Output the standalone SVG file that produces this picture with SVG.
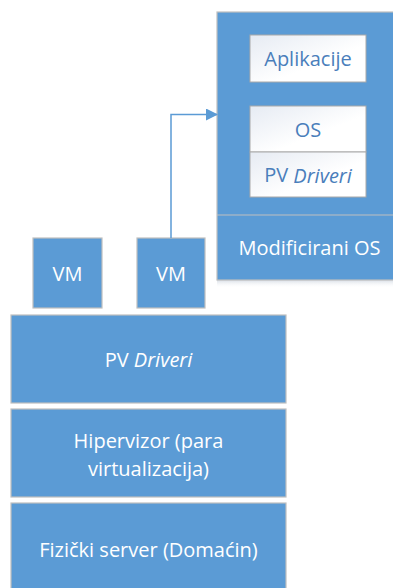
<svg xmlns="http://www.w3.org/2000/svg" width="393" height="588" viewBox="0 0 393 588">
<style>
.b{fill:#5B9BD5;stroke:#BFBFBF;stroke-width:1.2}
.w{fill:url(#wg);stroke:#A9A9A9;stroke-width:1}
text{font-family:"Open Sans","Liberation Sans",sans-serif;font-size:20px;text-anchor:middle;dominant-baseline:central}
.tw{fill:#FFFFFF}
.tb{fill:#4A7EBB}
.c{fill:none;stroke:#5B9BD5;stroke-width:1.5}
</style>
<defs>
<linearGradient id="wg" x1="0" y1="0" x2="1" y2="1">
<stop offset="0" stop-color="#E6EBF3"/>
<stop offset="0.6" stop-color="#FFFFFF"/>
<stop offset="1" stop-color="#FFFFFF"/>
</linearGradient>
<linearGradient id="sh" x1="0" y1="0" x2="0" y2="1">
<stop offset="0" stop-color="#D8DEE6"/>
<stop offset="1" stop-color="#FFFFFF" stop-opacity="0"/>
</linearGradient>
<marker id="ah" markerWidth="12" markerHeight="12" refX="11" refY="6" orient="auto" markerUnits="userSpaceOnUse">
<path d="M0,0 L12,6 L0,12 Z" fill="#5B9BD5"/>
</marker>
</defs>
<g id="guest">
<rect x="217" y="280" width="180" height="8" fill="url(#sh)"/>
<rect class="b" x="217" y="12" width="180" height="268"/>
<line x1="217" y1="215" x2="397" y2="215" stroke="#BFBFBF" stroke-width="1.2"/>
<text class="tw" x="309.5" y="247">Modificirani OS</text>
</g>
<g id="aplikacije">
<rect class="w" x="250" y="35" width="116" height="47"/>
<text class="tb" x="308" y="58.5">Aplikacije</text>
</g>
<g id="os">
<rect class="w" x="250" y="106" width="116" height="46"/>
<text class="tb" x="308" y="129">OS</text>
</g>
<g id="pvdriveri-guest">
<rect class="w" x="250" y="152" width="116" height="45"/>
<text class="tb" x="308" y="174.5">PV <tspan font-style="italic">Driveri</tspan></text>
</g>
<g id="vm1">
<rect class="b" x="33" y="238" width="69" height="70"/>
<text class="tw" x="67.5" y="273">VM</text>
</g>
<g id="vm2">
<rect class="b" x="137" y="238" width="68" height="70"/>
<text class="tw" x="171" y="273">VM</text>
</g>
<g id="pvdriveri">
<rect class="b" x="11" y="315" width="275" height="88"/>
<text class="tw" x="148.5" y="359">PV <tspan font-style="italic">Driveri</tspan></text>
</g>
<g id="hipervizor">
<rect class="b" x="11" y="409" width="275" height="88"/>
<text class="tw" x="148.5" y="440">Hipervizor (para</text>
<text class="tw" x="148.5" y="468">virtualizacija)</text>
</g>
<g id="fizicki">
<rect class="b" x="11" y="503" width="275" height="90"/>
<text class="tw" x="148.5" y="549">Fizički server (Domaćin)</text>
</g>
<g id="connectors">
<path class="c" d="M171,238 V114.5 H217" marker-end="url(#ah)"/>
</g>
</svg>
